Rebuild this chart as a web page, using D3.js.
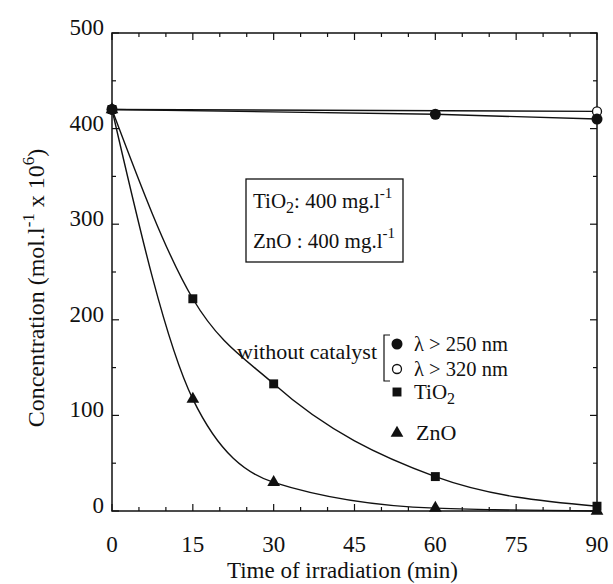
<!DOCTYPE html>
<html>
<head>
<meta charset="utf-8">
<script src="https://cdn.jsdelivr.net/npm/d3@7"></script>
<style>
  body { margin: 0; background: #fff; }
  svg text { font-family: "Liberation Serif", "DejaVu Serif", serif; fill: #111; }
</style>
</head>
<body>
<div id="chart"></div>
<script>
// time of irradiation (min) and concentration (mol.l-1 x 10^6)
const timeLam250 = [0, 60, 90];
const concLam250 = [420, 415, 410];
const timeLam320 = [0, 90];
const concLam320 = [420, 418];
const timeTiO2 = [0, 15, 30, 60, 90];
const concTiO2 = [420, 222, 133, 36, 5];
const timeZnO = [0, 15, 30, 60, 90];
const concZnO = [420, 117, 30, 3, 0];
const xTicks = [0, 15, 30, 45, 60, 75, 90];
const yTicks = [0, 100, 200, 300, 400, 500];

const width = 613, height = 584;
const margin = {top: 33, right: 16, bottom: 73, left: 112};

const svg = d3.select("#chart").append("svg")
  .attr("width", width)
  .attr("height", height);

const x = d3.scaleLinear().domain([0, 90]).range([margin.left, width - margin.right]);
const y = d3.scaleLinear().domain([0, 500]).range([height - margin.bottom, margin.top]);

const ink = "#111";

// frame
svg.append("rect")
  .attr("x", x(0)).attr("y", y(500))
  .attr("width", x(90) - x(0)).attr("height", y(0) - y(500))
  .attr("fill", "none").attr("stroke", ink).attr("stroke-width", 1.5);

// inward ticks on all four sides, minor every 5 min / 50 units
const minorX = d3.range(0, 91, 5);
const minorY = d3.range(0, 501, 50);
function tickLen(v, step) { return v % step === 0 ? 7 : 4; }

const tickG = svg.append("g").attr("stroke", ink).attr("stroke-width", 1.2);
minorX.forEach(t => {
  const L = tickLen(t, 15);
  tickG.append("line").attr("x1", x(t)).attr("x2", x(t)).attr("y1", y(0)).attr("y2", y(0) - L);
  tickG.append("line").attr("x1", x(t)).attr("x2", x(t)).attr("y1", y(500)).attr("y2", y(500) + L);
});
minorY.forEach(v => {
  const L = tickLen(v, 100);
  tickG.append("line").attr("x1", x(0)).attr("x2", x(0) + L).attr("y1", y(v)).attr("y2", y(v));
  tickG.append("line").attr("x1", x(90)).attr("x2", x(90) - L).attr("y1", y(v)).attr("y2", y(v));
});

// tick labels
svg.append("g").selectAll("text").data(xTicks).join("text")
  .attr("x", d => x(d)).attr("y", y(0) + 41)
  .attr("text-anchor", "middle").attr("font-size", 23)
  .text(d => d);
svg.append("g").selectAll("text").data(yTicks).join("text")
  .attr("x", x(0) - 8).attr("y", d => y(d) + 2)
  .attr("text-anchor", "end").attr("font-size", 23)
  .text(d => d);

// axis titles
svg.append("text")
  .attr("x", (x(0) + x(90)) / 2 - 12).attr("y", height - 6)
  .attr("text-anchor", "middle").attr("font-size", 23)
  .text("Time of irradiation (min)");

const yt = svg.append("text")
  .attr("transform", "translate(44,288) rotate(-90)")
  .attr("text-anchor", "middle").attr("font-size", 24);
yt.append("tspan").text("Concentration (mol.l");
yt.append("tspan").attr("dy", -10).attr("font-size", 17).text("-1");
yt.append("tspan").attr("dy", 10).text(" x 10");
yt.append("tspan").attr("dy", -10).attr("font-size", 17).text("6");
yt.append("tspan").attr("dy", 10).text(")");

// curves
const line = d3.line().x(d => x(d[0])).y(d => y(d[1]));
const smooth = d3.line().x(d => x(d[0])).y(d => y(d[1])).curve(d3.curveMonotoneX);
const pts = (ts, vs) => ts.map((t, i) => [t, vs[i]]);

svg.append("path").datum(pts(timeLam320, concLam320)).attr("d", line)
  .attr("fill", "none").attr("stroke", ink).attr("stroke-width", 1.4);
svg.append("path").datum(pts(timeLam250, concLam250)).attr("d", line)
  .attr("fill", "none").attr("stroke", ink).attr("stroke-width", 1.4);
svg.append("path").datum(pts(timeTiO2, concTiO2)).attr("d", smooth)
  .attr("fill", "none").attr("stroke", ink).attr("stroke-width", 1.4);
svg.append("path").datum(pts(timeZnO, concZnO)).attr("d", smooth)
  .attr("fill", "none").attr("stroke", ink).attr("stroke-width", 1.4);

// markers
const sq = d3.symbol().type(d3.symbolSquare).size(80);
const tri = d3.symbol().type(d3.symbolTriangle).size(70);

svg.append("g").selectAll("path").data(pts(timeTiO2, concTiO2)).join("path")
  .attr("transform", d => `translate(${x(d[0])},${y(d[1])})`)
  .attr("d", sq).attr("fill", ink);
svg.append("g").selectAll("path").data(pts(timeZnO, concZnO)).join("path")
  .attr("transform", d => `translate(${x(d[0])},${y(d[1])})`)
  .attr("d", tri).attr("fill", ink);
svg.append("g").selectAll("circle").data(pts(timeLam320, concLam320)).join("circle")
  .attr("cx", d => x(d[0])).attr("cy", d => y(d[1])).attr("r", 4.5)
  .attr("fill", "#fff").attr("stroke", ink).attr("stroke-width", 1.3);
svg.append("g").selectAll("circle").data(pts(timeLam250, concLam250)).join("circle")
  .attr("cx", d => x(d[0])).attr("cy", d => y(d[1])).attr("r", 5.5)
  .attr("fill", ink);

// box with catalyst loading
svg.append("rect")
  .attr("x", 246).attr("y", 179).attr("width", 157).attr("height", 83)
  .attr("fill", "#fff").attr("stroke", ink).attr("stroke-width", 1.3);

function loading(yy, name, sub, after) {
  const t = svg.append("text").attr("x", 253).attr("y", yy).attr("font-size", 21);
  t.append("tspan").text(name);
  if (sub) t.append("tspan").attr("dy", 5).attr("font-size", 16).text(sub);
  t.append("tspan").attr("dy", sub ? -5 : 0).text(after);
  t.append("tspan").attr("dy", -10).attr("font-size", 15).text("-1");
}
loading(208, "TiO", "2", ": 400 mg.l");
loading(248, "ZnO", null, " : 400 mg.l");

// legend
svg.append("text").attr("x", 377).attr("y", 359).attr("text-anchor", "end")
  .attr("font-size", 22).text("without catalyst");
svg.append("path")
  .attr("d", "M390,335 H384 V381 H390")
  .attr("fill", "none").attr("stroke", ink).attr("stroke-width", 1.2);

const legX = 397, legT = 414;
svg.append("circle").attr("cx", legX).attr("cy", 344).attr("r", 5.5).attr("fill", ink);
svg.append("circle").attr("cx", legX).attr("cy", 369).attr("r", 4.5)
  .attr("fill", "#fff").attr("stroke", ink).attr("stroke-width", 1.3);
svg.append("path").attr("transform", `translate(${legX},392)`).attr("d", sq).attr("fill", ink);
svg.append("path").attr("transform", `translate(${legX},433)`).attr("d", tri).attr("fill", ink);

svg.append("text").attr("x", legT).attr("y", 351).attr("font-size", 20.5).text("λ > 250 nm");
svg.append("text").attr("x", legT).attr("y", 376).attr("font-size", 20.5).text("λ > 320 nm");
const tl = svg.append("text").attr("x", legT).attr("y", 399).attr("font-size", 21);
tl.append("tspan").text("TiO");
tl.append("tspan").attr("dy", 5).attr("font-size", 16).text("2");
svg.append("text").attr("x", legT + 2).attr("y", 440).attr("font-size", 22).text("ZnO");
</script>
</body>
</html>
